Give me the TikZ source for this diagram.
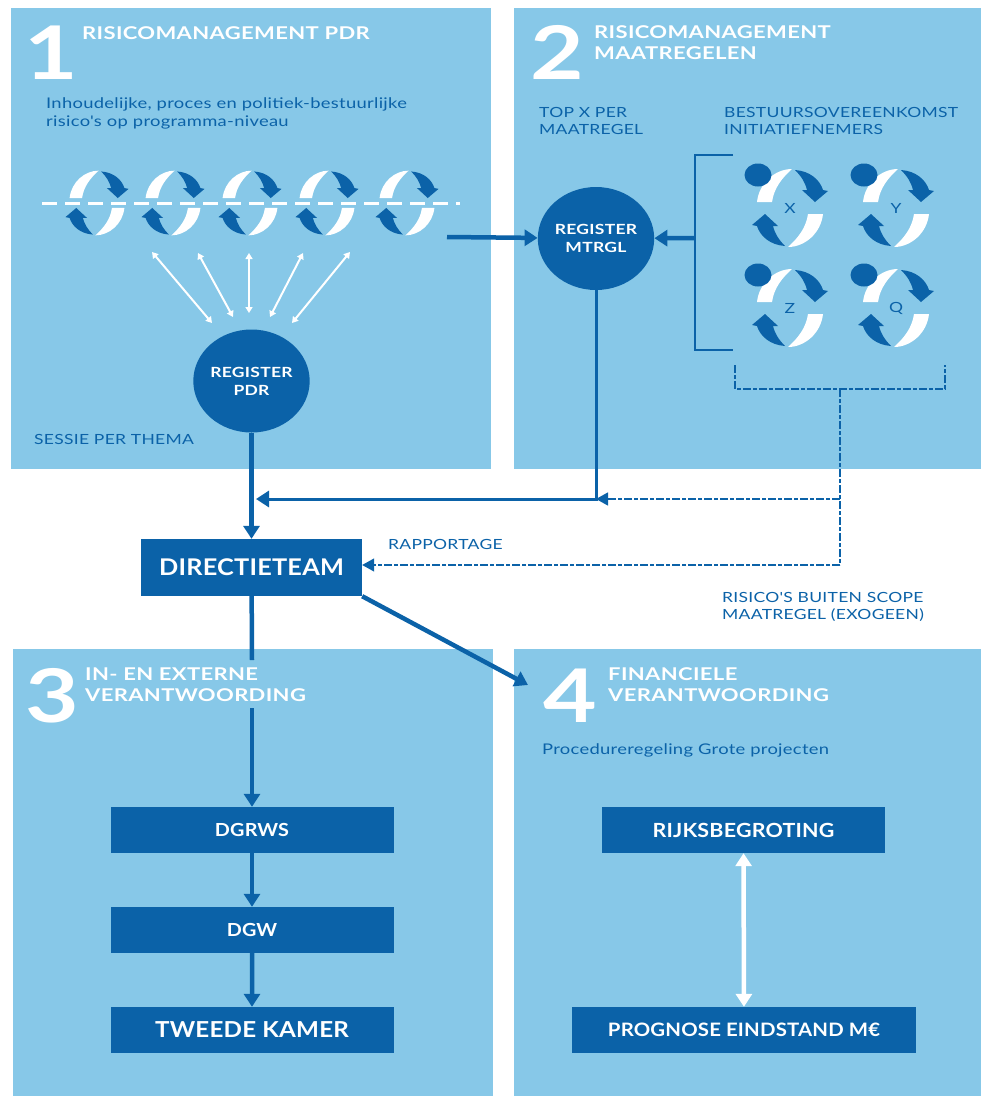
\documentclass[tikz,border=0pt]{standalone}
\usepackage{fontspec}
\setmainfont{Lato}
\newfontfamily\widefont[FakeStretch=1.25,LetterSpace=2]{Lato}
\newfontfamily\boxfont[FakeStretch=1.1,LetterSpace=1]{Lato}
\usetikzlibrary{arrows.meta,shapes.geometric}
\definecolor{panelblue}{HTML}{87C8E8}
\definecolor{deepblue}{HTML}{0B62A8}
\tikzset{
  cycle/.pic={
    \foreach \r in {0,180} {
      \begin{scope}[rotate=\r]
      \fill[white] (-33,-6) .. controls (-31,-25) and (-15,-39) .. (2,-39)
        .. controls (-8,-30) and (-16,-20) .. (-18,-6) -- cycle;
      \fill[deepblue] (5,-38) .. controls (20,-37) and (30,-28) .. (33,-18)
        -- (38,-17) -- (25,-6) -- (12,-18) -- (17,-18)
        .. controls (15,-26) and (11,-32) .. (5,-38) -- cycle;
      \end{scope}
    }
  }
}
\begin{document}
\begin{tikzpicture}[x=1pt,y=-1pt,
    panel/.style={fill=panelblue},
    num/.style={font=\widefont\fontsize{74}{74}\selectfont\bfseries,text=white,inner sep=0pt},
    head/.style={font=\widefont\fontsize{17.6}{21}\selectfont\bfseries,text=white,anchor=west,align=left,inner sep=0pt},
    n/.style={font=\widefont\fontsize{14}{17}\selectfont,text=deepblue,anchor=west,align=left,inner sep=0pt},
    nlow/.style={n,font=\widefont\fontsize{14.7}{18}\selectfont},
    reg/.style={ellipse,fill=deepblue,text=white,minimum width=113pt,minimum height=103pt,inner sep=0pt,align=center,font=\widefont\fontsize{14}{18}\selectfont\bfseries},
    bx/.style={fill=deepblue,text=white,inner sep=0pt,minimum height=46pt,font=\boxfont\fontsize{18}{18}\selectfont\bfseries},
    flow/.style={draw=deepblue,line width=4.5pt,-{Triangle[width=16pt,length=13pt]}},
    thin/.style={draw=deepblue,line width=2pt},
    dsh/.style={draw=deepblue,line width=1.2pt,dash pattern=on 8pt off 2pt on 4pt off 2pt},
    fan/.style={draw=white,line width=2pt,{Triangle[width=7pt,length=6pt]}-{Triangle[width=7pt,length=6pt]}},
    level distance=100pt]
\useasboundingbox (0,0) rectangle (981,1096);
\fill[white] (0,0) rectangle (981,1096);
\fill[panel] (11,8) rectangle (491,469);
\fill[panel] (514,8) rectangle (981,469);
\fill[panel] (13,649) rectangle (493,1096);
\fill[panel] (514,649) rectangle (981,1096);

\node[num] (one) at (51,53) {1};
\node[num] (two) at (557,52) {2};
\node[num] (three) at (52,696) {3};
\node[num] (four) at (570,696) {4};
\node[head] (h1) at (82,33) {RISICOMANAGEMENT PDR};
\node[head] (h2) at (594,43) {RISICOMANAGEMENT\\MAATREGELEN};
\node[head] (h3) at (85,685) {IN- EN EXTERNE\\VERANTWOORDING};
\node[head] (h4) at (608,685) {FINANCIELE\\VERANTWOORDING};
\node[nlow] (inh) at (46,113) {Inhoudelijke, proces en politiek-bestuurlijke\\risico's op programma-niveau};
\node[n] (top) at (539,121) {TOP X PER\\MAATREGEL};
\node[n] (bst) at (724,121) {BESTUURSOVEREENKOMST\\INITIATIEFNEMERS};
\node[n] (ses) at (34,439) {SESSIE PER THEMA};
\node[n] (rap) at (388,544) {RAPPORTAGE};
\node[n] (exo) at (722,607) {RISICO'S BUITEN SCOPE\\MAATREGEL (EXOGEEN)};
\node[nlow] (proc) at (542,750) {Procedureregeling Grote projecten};

% cycles
\foreach \x in {97,173,250,327,407}
  \pic[scale=.83] at (\x,203) {cycle};
\draw[white,line width=3pt,dash pattern=on 15pt off 8pt] (42,203) -- (460,203);
\foreach \x/\y/\lab in {790/208/X,896/208/Y,790/308/Z,896/308/Q} {
  \pic at (\x,\y) {cycle};
  \fill[deepblue] (\x-32,\y-33) ellipse (13.5 and 11.5);
  \node[n,anchor=center] (lab\lab) at (\x,\y) {\lab};
}

\node[reg] (regp) at (251.5,381) {REGISTER\\PDR};
\node[reg] (regm) at (596,238.5) {REGISTER\\MTRGL};
\node[bx,minimum width=221pt,minimum height=57pt,font=\boxfont\fontsize{23}{23}\selectfont\bfseries] (dir) at (251.5,567.5) {DIRECTIETEAM};
\node[bx,minimum width=283pt] (dgrws) at (252,830) {DGRWS}
    child[edge from parent/.style={flow,draw}]{ node[bx,minimum width=283pt] (dgw) {DGW}
      child[edge from parent/.style={flow,draw}]{ node[bx,minimum width=283pt,font=\boxfont\fontsize{22}{22}\selectfont\bfseries] (kamer) {TWEEDE KAMER} }
    };
\node[bx,minimum width=283pt,font=\boxfont\fontsize{19.5}{20}\selectfont\bfseries] (rijk) at (743.5,830) {RIJKSBEGROTING};
\node[bx,minimum width=344pt,font=\boxfont\fontsize{18.5}{19}\selectfont\bfseries] (prog) at (744,1030) {PROGNOSE EINDSTAND M€};

\coordinate (p1) at (152,252); \coordinate (q1) at (212,323);
\coordinate (p2) at (198,253); \coordinate (q2) at (233,317);
\coordinate (p3) at (249,253); \coordinate (q3) at (249,313);
\coordinate (p4) at (303,253); \coordinate (q4) at (270,317);
\coordinate (p5) at (350,252); \coordinate (q5) at (292,323);
\foreach \i in {1,...,5}
  \draw[fan] (p\i) -- (q\i);

\coordinate (out) at (447,237);
\coordinate (brk) at (695,238);
\coordinate (join) at (596,499);
\coordinate (jr) at (840,499);
\coordinate (jd) at (840,565);
\coordinate (st) at (840,389);
\coordinate (in3) at (252,708);
\coordinate (end3) at (252,660);
\draw[flow] (regp) -- (dir);
\draw[flow] (out) -- (regm);
\draw[flow] (brk) -- (regm);
\draw[thin] (733,155) -| (brk) |- (733,350);
\draw[flow,line width=3pt] (regm) -- (join) -- (256,499);
\draw[dsh] (735,365) |- (945,389) -- (945,365);
\draw[dsh] (st) -- (jd);
\draw[dsh,-{Triangle[width=13pt,length=12pt]}] (jd) -- (dir.east |- jd);
\draw[dsh,-{Triangle[width=13pt,length=12pt]}] (jr) -- (join);
\draw[draw=deepblue,line width=4.5pt] (dir) -- (end3);
\draw[flow] (in3) -- (dgrws);
\draw[flow] (dir.south east) -- (528,685);
\draw[draw=white,line width=4.5pt,{Triangle[width=16pt,length=13pt]}-{Triangle[width=16pt,length=13pt]}] (rijk) -- (prog);
\end{tikzpicture}
\end{document}
